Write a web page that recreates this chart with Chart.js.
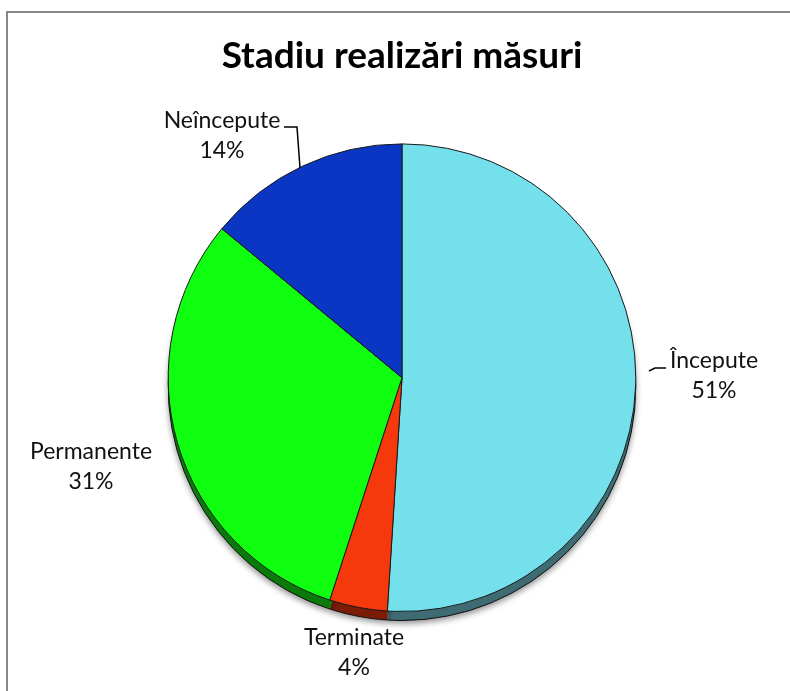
<!DOCTYPE html>
<html>
<head>
<meta charset="utf-8">
<script src="https://cdn.jsdelivr.net/npm/chart.js@4"></script>
<style>
  html, body { margin: 0; padding: 0; background: #fff; }
  #wrap { width: 790px; height: 691px; }
</style>
</head>
<body>
<div id="wrap"><canvas id="myChart" width="790" height="691"></canvas></div>
<script>
const labels = ["Începute", "Terminate", "Permanente", "Neîncepute"];
const percents = [51, 4, 31, 14];
const colors = ["#74E0EC", "#F5390C", "#10FF10", "#0B36C3"];
const sideColors = ["#3E6C72", "#7A1C06", "#0A7A0A", "#07207A"];

// where each label sits (text centre) and optional leader line
const labelPos = [
  { x: 714, y: 361, leader: [[649, 371], [655, 368], [666, 368]] },
  { x: 354, y: 638 },
  { x: 91, y: 452 },
  { x: 222, y: 121, leader: [[300, 168], [297, 127], [284, 127]] },
];

const frame = {
  id: "frame",
  beforeDraw(chart) {
    const ctx = chart.ctx;
    ctx.save();
    ctx.fillStyle = "#fff";
    ctx.fillRect(0, 0, chart.width, chart.height);
    ctx.strokeStyle = "#888";
    ctx.lineWidth = 2;
    ctx.strokeRect(7, 12, 820, 720);
    ctx.restore();
  },
};

// darker "side" of the pie drawn a few px below the top face
const depth = {
  id: "depth",
  beforeDatasetsDraw(chart) {
    const ctx = chart.ctx;
    const arcs = chart.getDatasetMeta(0).data;
    ctx.save();
    ctx.shadowColor = "rgba(0,0,0,0.45)";
    ctx.shadowBlur = 6;
    ctx.shadowOffsetY = 3;
    arcs.forEach((a, i) => {
      ctx.beginPath();
      ctx.moveTo(a.x, a.y + 9);
      ctx.arc(a.x, a.y + 9, a.outerRadius, a.startAngle, a.endAngle);
      ctx.closePath();
      ctx.fillStyle = sideColors[i];
      ctx.fill();
    });
    ctx.shadowColor = "transparent";
    arcs.forEach((a) => {
      ctx.beginPath();
      ctx.arc(a.x, a.y + 9, a.outerRadius, a.startAngle, a.endAngle);
      ctx.strokeStyle = "#111";
      ctx.lineWidth = 1;
      ctx.stroke();
    });
    ctx.restore();
  },
};

const outLabels = {
  id: "outLabels",
  afterDatasetsDraw(chart) {
    const ctx = chart.ctx;
    ctx.save();
    ctx.fillStyle = "#111";
    ctx.font = "23px Lato, 'Open Sans', sans-serif";
    ctx.textAlign = "center";
    ctx.textBaseline = "middle";
    labels.forEach((lab, i) => {
      const p = labelPos[i];
      ctx.fillText(lab, p.x, p.y);
      ctx.fillText(percents[i] + "%", p.x, p.y + 30);
      if (p.leader) {
        ctx.beginPath();
        ctx.moveTo(p.leader[0][0], p.leader[0][1]);
        p.leader.slice(1).forEach((pt) => ctx.lineTo(pt[0], pt[1]));
        ctx.strokeStyle = "#000";
        ctx.lineWidth = 1.5;
        ctx.stroke();
      }
    });
    ctx.restore();
  },
};

const ctx = document.getElementById("myChart").getContext("2d");
new Chart(ctx, {
  type: "pie",
  data: {
    labels: labels,
    datasets: [
      {
        data: percents,
        backgroundColor: colors,
        borderColor: "#1a1a1a",
        borderWidth: 1,
      },
    ],
  },
  options: {
    responsive: false,
    animation: false,
    layout: {
      padding: { top: 34, left: 166, right: 152, bottom: 79 },
    },
    plugins: {
      legend: { display: false },
      tooltip: { enabled: false },
      title: {
        display: true,
        text: "Stadiu realizări măsuri",
        color: "#000",
        font: { family: "Lato, 'Open Sans', sans-serif", size: 37, weight: "bold", lineHeight: 1.2 },
        padding: { top: 0, bottom: 65 },
      },
    },
  },
  plugins: [frame, depth, outLabels],
});
</script>
</body>
</html>
